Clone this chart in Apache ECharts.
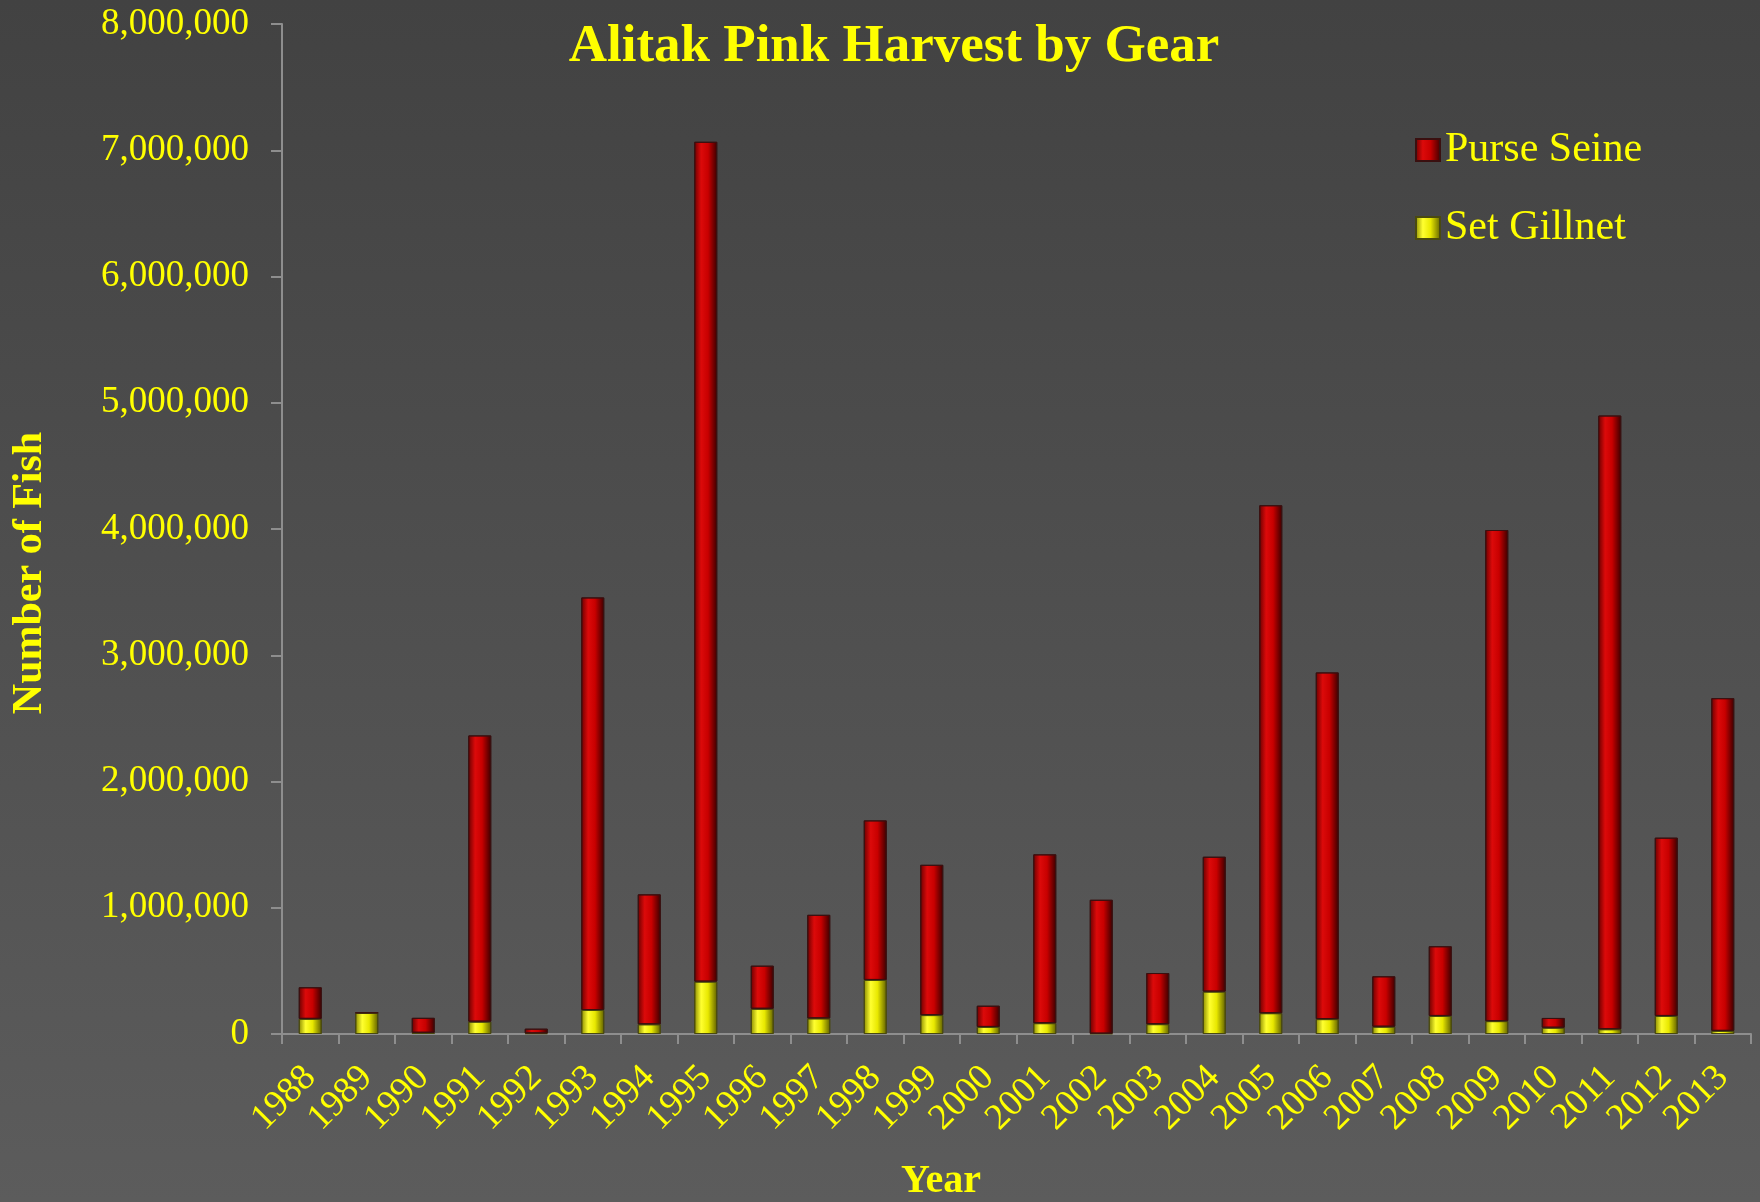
<!DOCTYPE html>
<html>
<head>
<meta charset="utf-8">
<title>Alitak Pink Harvest by Gear</title>
<script src="https://cdn.jsdelivr.net/npm/echarts@6/dist/echarts.min.js"></script>
<style>
  html, body { margin: 0; padding: 0; }
  #chart-container { width: 1760px; height: 1202px; }
</style>
</head>
<body>
<div id="chart-container"></div>
<script>
// harvest numbers (number of fish)
const years = ['1988', '1989', '1990', '1991', '1992', '1993', '1994', '1995', '1996',
  '1997', '1998', '1999', '2000', '2001', '2002', '2003', '2004', '2005', '2006',
  '2007', '2008', '2009', '2010', '2011', '2012', '2013'];

const setGillnet = [120000, 168000, 10000, 98000, 5000, 190000, 77000, 415000, 200000,
  124000, 428000, 150000, 56000, 86000, 3000, 78000, 336000, 165000, 118000,
  58000, 143000, 102000, 50000, 38000, 143000, 25000];

const purseSeine = [250000, 0, 118000, 2267000, 37000, 3268000, 1029000, 6652000, 341000,
  820000, 1264000, 1190000, 168000, 1337000, 1060000, 405000, 1068000, 4023000, 2746000,
  399000, 552000, 3890000, 77000, 4861000, 1412000, 2635000];

const yTicks = [0, 1000000, 2000000, 3000000, 4000000, 5000000, 6000000, 7000000, 8000000];

const serif = '"Liberation Serif", "DejaVu Serif", serif';
const yellow = '#ffff00';

function barGradient(edge, mid, light, dark) {
  return new echarts.graphic.LinearGradient(0, 0, 1, 0, [
    { offset: 0, color: edge },
    { offset: 0.3, color: light },
    { offset: 0.6, color: mid },
    { offset: 1, color: dark }
  ]);
}

const chart = echarts.init(document.getElementById('chart-container'));

const options = {
  backgroundColor: new echarts.graphic.LinearGradient(0, 0, 0, 1, [
    { offset: 0, color: '#424242' },
    { offset: 1, color: '#5c5c5c' }
  ]),

  title: {
    text: 'Alitak Pink Harvest by Gear',
    left: 889,
    textAlign: 'center',
    top: 16,
    textStyle: {
      color: yellow,
      fontFamily: serif,
      fontWeight: 'bold',
      fontSize: 53
    }
  },

  legend: {
    orient: 'vertical',
    left: 1410,
    top: 124,
    itemGap: 36,
    itemWidth: 24,
    itemHeight: 22,
    icon: 'rect',
    data: ['Purse Seine', 'Set Gillnet'],
    textStyle: {
      color: yellow,
      fontFamily: serif,
      fontSize: 42
    }
  },

  grid: {
    left: 282,
    top: 24,
    right: 9,
    bottom: 168
  },

  xAxis: {
    type: 'category',
    data: years,
    axisLine: { lineStyle: { color: '#8e8e8e', width: 2 } },
    axisTick: { show: true, length: 10, lineStyle: { color: '#8e8e8e', width: 2 } },
    axisLabel: {
      rotate: 45,
      margin: 38,
      color: yellow,
      fontFamily: serif,
      fontSize: 37,
      interval: 0
    }
  },

  yAxis: {
    type: 'value',
    min: yTicks[0],
    max: yTicks[yTicks.length - 1],
    interval: 1000000,
    axisLine: { show: true, lineStyle: { color: '#8e8e8e', width: 2 } },
    axisTick: { show: true, length: 11, lineStyle: { color: '#8e8e8e', width: 2 } },
    splitLine: { show: false },
    axisLabel: {
      margin: 33,
      color: yellow,
      fontFamily: serif,
      fontSize: 37,
      formatter: v => v.toLocaleString('en-US')
    }
  },

  series: [
    {
      name: 'Set Gillnet',
      type: 'bar',
      stack: 'gear',
      barWidth: 23,
      data: setGillnet,
      itemStyle: {
        color: barGradient('#8a8a00', '#e8e800', '#ffff30', '#5e5e00'),
        borderColor: '#4a4a10',
        borderWidth: 1
      }
    },
    {
      name: 'Purse Seine',
      type: 'bar',
      stack: 'gear',
      barWidth: 23,
      data: purseSeine,
      itemStyle: {
        color: barGradient('#6a0000', '#c80000', '#dc0a0a', '#3a0000'),
        borderColor: '#3a1010',
        borderWidth: 1
      }
    }
  ],

  graphic: [
    {
      type: 'text',
      x: 30,
      y: 573,
      rotation: Math.PI / 2,
      style: {
        text: 'Number of Fish',
        fill: yellow,
        font: 'bold 42px ' + serif,
        align: 'center',
        verticalAlign: 'middle'
      }
    },
    {
      type: 'text',
      x: 941,
      y: 1182,
      style: {
        text: 'Year',
        fill: yellow,
        font: 'bold 40px ' + serif,
        align: 'center',
        verticalAlign: 'middle'
      }
    }
  ]
};

chart.setOption(options);
</script>
</body>
</html>
